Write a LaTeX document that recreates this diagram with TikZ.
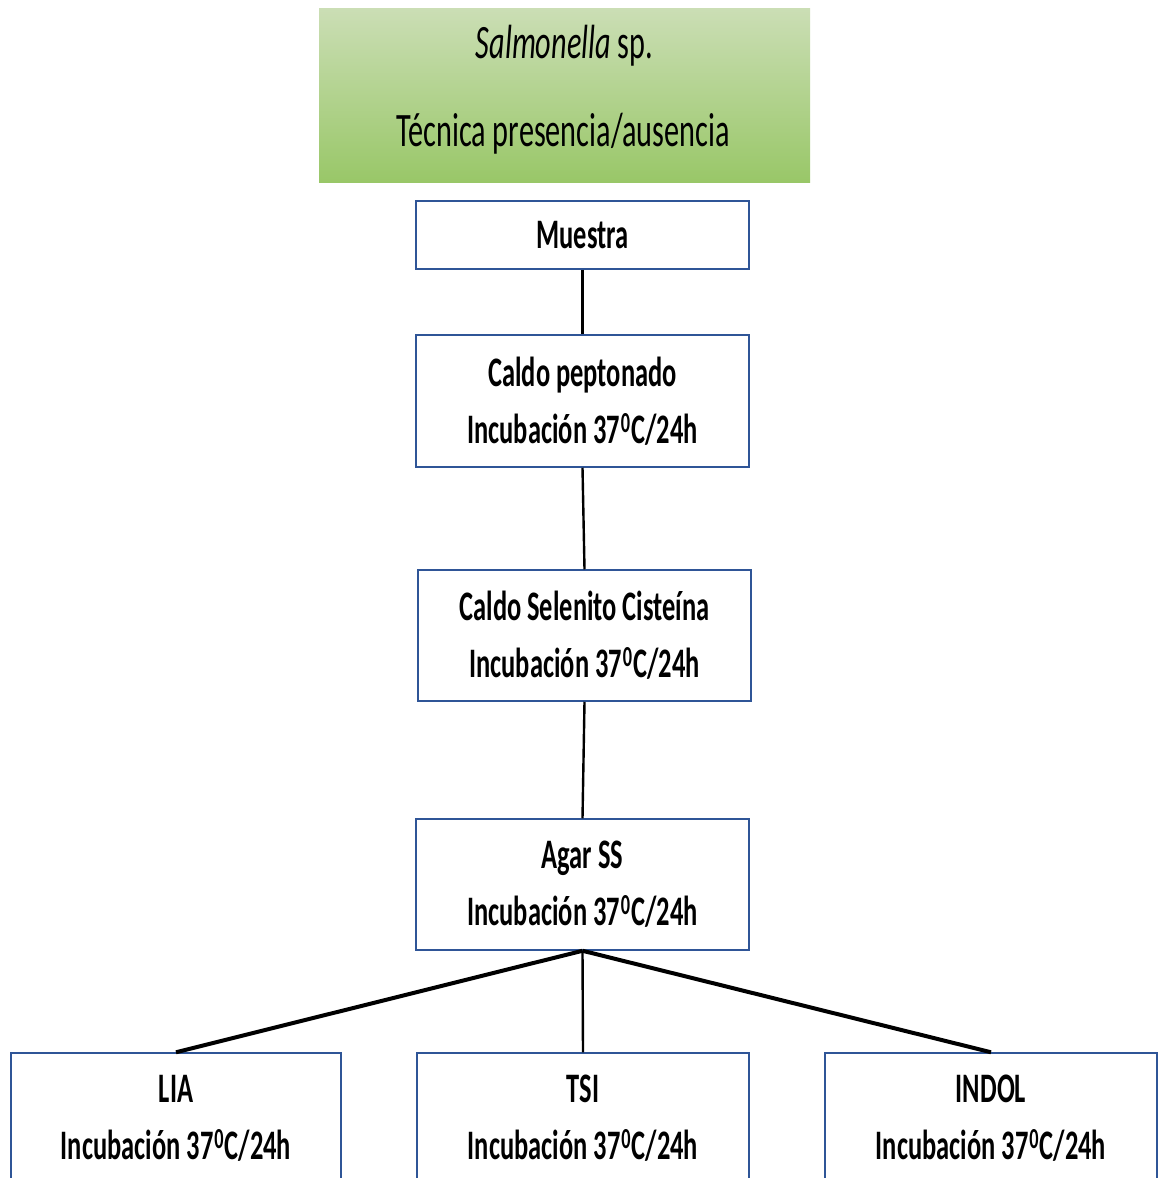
\documentclass[tikz,border=0pt]{standalone}
\usepackage{fontspec}
\setmainfont{Carlito}
\newfontfamily\bodyfont[FakeStretch=0.63]{Carlito}
\newfontfamily\titlefont[FakeStretch=0.63]{Carlito}
\definecolor{boxblue}{HTML}{2F5597}
\definecolor{gtop}{RGB}{203,222,181}
\definecolor{gbot}{RGB}{153,199,104}
\newcommand{\incub}{Incubación 37\kern1pt\raisebox{11pt}{\fontsize{29}{29}\selectfont 0}\kern1pt C/24h}
\begin{document}
\begin{tikzpicture}[x=1pt,y=-1pt,
  stepbox/.style={draw=boxblue, line width=1.5pt, fill=white, minimum width=333pt, inner sep=0pt, align=center,
    font=\bodyfont\bfseries\fontsize{42}{57}\selectfont},
  titletext/.style={anchor=base, inner sep=0pt, font=\titlefont\fontsize{48}{48}\selectfont},
  thin link/.style={line width=2.4pt},
  thick link/.style={line width=4pt}]
\useasboundingbox (0,0) rectangle (1160,1178);
\fill[white] (0,0) rectangle (1160,1178);
\node[top color=gtop, bottom color=gbot, minimum width=491pt, minimum height=174pt, inner sep=0pt] (title) at (564.5,95) {};
\node[titletext] (t1) at (564.5,58) {\textit{Salmonella} sp.};
\node[titletext] (t2) at (563,146) {Técnica presencia/ausencia};
\node[stepbox, minimum height=68pt] (m) at (582.5,235) {Muestra};
\node[stepbox, minimum height=132pt] (cp) at (582.5,401) {Caldo peptonado\\\incub};
\node[stepbox, minimum height=131pt] (cs) at (584.5,635.5) {Caldo Selenito Cisteína\\\incub};
\node[stepbox, minimum height=131pt] (ag) at (582.5,884.5) {Agar SS\\\incub};
\node[stepbox, minimum width=330pt, minimum height=131pt] (lia) at (176,1118.5) {LIA\\\incub};
\node[stepbox, minimum width=332pt, minimum height=131pt] (tsi) at (583,1118.5) {TSI\\\incub};
\node[stepbox, minimum width=332pt, minimum height=131pt] (ind) at (991,1118.5) {INDOL\\\incub};
\draw[thin link] (m.south) -- (cp.north);
\draw[thin link] (cp.south) -- (cs.north);
\draw[thin link] (cs.south) -- (ag.north);
\draw[thick link] (ag.south) -- (lia.north);
\draw[thin link] (ag.south) -- (tsi.north);
\draw[thick link] (ag.south) -- (ind.north);
\end{tikzpicture}
\end{document}
